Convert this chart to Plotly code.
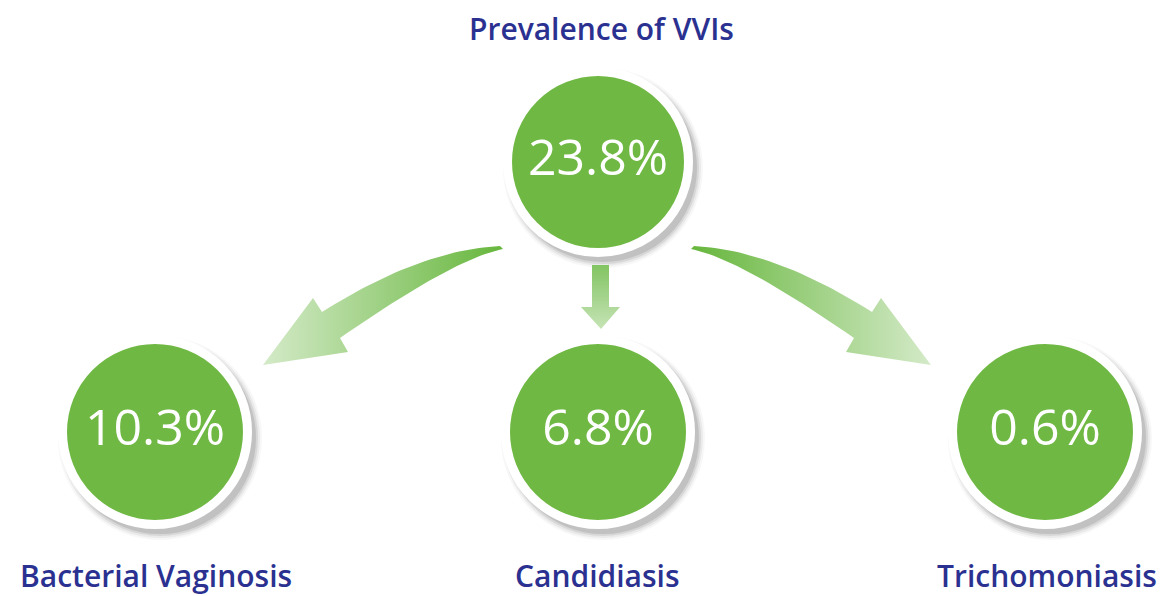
import numpy as np
import plotly.graph_objects as go

# ---- data ----
categories = ["Prevalence of VVIs", "Bacterial Vaginosis", "Candidiasis", "Trichomoniasis"]
values = [23.8, 10.3, 6.8, 0.6]

# ---- layout (pixel positions) ----
node_x = [598, 155, 598, 1045]
node_y = [162, 432, 432, 432]
node_r = [95, 97, 97, 97]
label_x = [601, 156, 597, 1047]
label_y = [28, 575, 575, 575]

W, H = 1164, 596
GREEN = "#70b844"
NAVY = "#2b3190"
RING = 9

fig = go.Figure()


def qbez(p0, c, p2, n=30):
    t = np.linspace(0, 1, n)
    x = (1 - t) ** 2 * p0[0] + 2 * (1 - t) * t * c[0] + t ** 2 * p2[0]
    y = (1 - t) ** 2 * p0[1] + 2 * (1 - t) * t * c[1] + t ** 2 * p2[1]
    return list(x), list(y)


def left_arrow():
    ux, uy = qbez((500, 246), (420, 250), (322, 312))
    lx, ly = qbez((340, 338), (455, 258), (503, 249))
    xs = ux + [313, 263, 348] + lx
    ys = uy + [298, 365, 352] + ly
    return xs, ys


# shadows
shapes = []
for cx, cy, r in zip(node_x, node_y, node_r):
    for k, a in [(5, 0.03), (3, 0.05), (1, 0.08), (-1, 0.10)]:
        shapes.append(dict(type="circle", xref="x", yref="y", layer="below",
                           x0=cx + 5 - r - k, x1=cx + 5 + r + k,
                           y0=cy + 6 - r - k, y1=cy + 6 + r + k,
                           fillcolor=f"rgba(0,0,0,{a})", line_width=0))

# arrows
lxs, lys = left_arrow()
fig.add_trace(go.Scatter(x=lxs, y=lys, mode="lines", fill="toself", line=dict(width=0),
                         fillgradient=dict(type="horizontal",
                                           colorscale=[[0, "#d4eac8"], [1, "#66b63c"]]),
                         hoverinfo="skip", showlegend=False))
rxs = [1194 - v for v in lxs]
fig.add_trace(go.Scatter(x=rxs, y=lys, mode="lines", fill="toself", line=dict(width=0),
                         fillgradient=dict(type="horizontal",
                                           colorscale=[[0, "#66b63c"], [1, "#d4eac8"]]),
                         hoverinfo="skip", showlegend=False))
mx = [592, 609, 609, 620, 601, 581, 592, 592]
my = [265, 265, 307, 307, 329, 307, 307, 265]
fig.add_trace(go.Scatter(x=mx, y=my, mode="lines", fill="toself", line=dict(width=0),
                         fillgradient=dict(type="vertical",
                                           colorscale=[[0, "#c6e4b6"], [1, "#82c462"]]),
                         hoverinfo="skip", showlegend=False))

# circles
fig.add_trace(go.Scatter(
    x=node_x, y=node_y, mode="markers+text",
    marker=dict(size=[2 * r - RING for r in node_r], color=GREEN, opacity=1,
                line=dict(color="white", width=RING)),
    text=[f"{v}%" for v in values], textposition="middle center",
    textfont=dict(family="Open Sans", size=50, color="white", weight=500),
    hoverinfo="skip", showlegend=False))

# labels
for name, x, y in zip(categories, label_x, label_y):
    fig.add_annotation(x=x, y=y, xref="x", yref="y", text=name, showarrow=False,
                       font=dict(family="Open Sans", size=30, color=NAVY, weight=600),
                       xanchor="center", yanchor="middle")

fig.update_layout(
    width=W, height=H, margin=dict(l=0, r=0, t=0, b=0),
    paper_bgcolor="white", plot_bgcolor="white", shapes=shapes,
    xaxis=dict(range=[0, W], visible=False, fixedrange=True),
    yaxis=dict(range=[H, 0], visible=False, fixedrange=True),
)
fig.write_html("out.html", config={"displayModeBar": False},
               post_script="document.body.style.margin='0';document.body.style.padding='0';")
